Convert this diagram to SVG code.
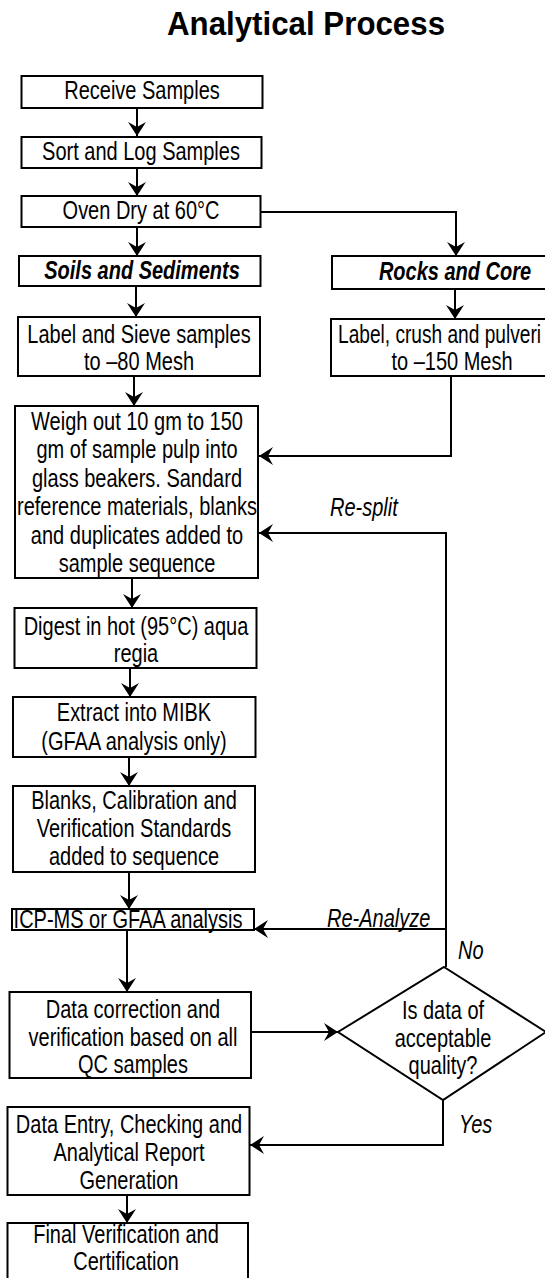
<svg xmlns="http://www.w3.org/2000/svg" width="545" height="1278" viewBox="0 0 545 1278">
<style>
.bx{fill:#fff;stroke:#000;stroke-width:2}
.ln{fill:none;stroke:#000;stroke-width:2}
text{font-family:"Liberation Sans",Arial,sans-serif;font-size:25px;fill:#000}
.c{text-anchor:middle}
.s{text-anchor:start}
.bi{font-weight:bold;font-style:italic}
.i{font-style:italic}
.ttl{font-weight:bold;font-size:34px;text-anchor:middle}
</style>
<defs>
<marker id="ah" markerUnits="userSpaceOnUse" viewBox="0 0 14 20" markerWidth="14" markerHeight="20" refX="14" refY="10" orient="auto">
<path d="M0,1 L14,10 L0,19 L5,10 Z" fill="#000"/>
</marker>
</defs>
<rect width="545" height="1278" fill="#fff"/>
<text class="ttl" transform="translate(306,35) scale(0.92,1)">Analytical Process</text>

<g id="connectors">
<line class="ln" x1="137" y1="108" x2="137" y2="136" marker-end="url(#ah)"/>
<line class="ln" x1="137" y1="168" x2="137" y2="196" marker-end="url(#ah)"/>
<line class="ln" x1="137" y1="227" x2="137" y2="256" marker-end="url(#ah)"/>
<polyline class="ln" points="261,212 456,212 456,256" marker-end="url(#ah)"/>
<line class="ln" x1="136" y1="286" x2="136" y2="317" marker-end="url(#ah)"/>
<line class="ln" x1="455" y1="289" x2="455" y2="319" marker-end="url(#ah)"/>
<line class="ln" x1="134" y1="376" x2="134" y2="406" marker-end="url(#ah)"/>
<polyline class="ln" points="451,376 451,456 259,456" marker-end="url(#ah)"/>
<polyline class="ln" points="446,967 446,533 259,533" marker-end="url(#ah)"/>
<line class="ln" x1="446" y1="929" x2="254" y2="929" marker-end="url(#ah)"/>
<line class="ln" x1="132" y1="578" x2="132" y2="608" marker-end="url(#ah)"/>
<line class="ln" x1="130" y1="668" x2="130" y2="697" marker-end="url(#ah)"/>
<line class="ln" x1="129" y1="757" x2="129" y2="786" marker-end="url(#ah)"/>
<line class="ln" x1="129" y1="872" x2="129" y2="909" marker-end="url(#ah)"/>
<line class="ln" x1="127" y1="930" x2="127" y2="992" marker-end="url(#ah)"/>
<line class="ln" x1="251" y1="1032" x2="338" y2="1032" marker-end="url(#ah)"/>
<polyline class="ln" points="443,1100 443,1145 250,1145" marker-end="url(#ah)"/>
<line class="ln" x1="127" y1="1195" x2="127" y2="1223" marker-end="url(#ah)"/>
<text class="s i" transform="translate(330,516) scale(0.8,1)">Re-split</text>
<text class="s i" transform="translate(327,927) scale(0.8,1)">Re-Analyze</text>
<text class="s i" transform="translate(458,959) scale(0.8,1)">No</text>
<text class="s i" transform="translate(459,1133) scale(0.8,1)">Yes</text>
</g>

<g id="receive">
<rect class="bx" x="21.5" y="76" width="241" height="32"/>
<text class="c" transform="translate(142,99) scale(0.8,1)">Receive Samples</text>
</g>
<g id="sort">
<rect class="bx" x="21.5" y="137" width="240" height="31"/>
<text class="c" transform="translate(141,160) scale(0.8,1)">Sort and Log Samples</text>
</g>
<g id="oven">
<rect class="bx" x="21.5" y="196" width="239" height="31"/>
<text class="c" transform="translate(141,219) scale(0.8,1)">Oven Dry at 60°C</text>
</g>
<g id="soils">
<rect class="bx" x="19" y="256" width="241.5" height="30"/>
<text class="c bi" transform="translate(142,279) scale(0.8,1)">Soils and Sediments</text>
</g>
<g id="rocks">
<rect class="bx" x="332" y="256" width="246" height="33"/>
<text class="c bi" transform="translate(455,280) scale(0.8,1)">Rocks and Core</text>
</g>
<g id="label-sieve">
<rect class="bx" x="18" y="317" width="242" height="59"/>
<text class="c" transform="translate(139,343) scale(0.8,1)">Label and Sieve samples</text>
<text class="c" transform="translate(139,370) scale(0.8,1)">to –80 Mesh</text>
</g>
<g id="label-crush">
<rect class="bx" x="331" y="319" width="246" height="57"/>
<text class="s" transform="translate(338,343) scale(0.765,1)">Label, crush and pulveri</text>
<text class="c" transform="translate(452,370) scale(0.8,1)">to –150 Mesh</text>
</g>
<g id="weigh">
<rect class="bx" x="15" y="406" width="243" height="172"/>
<text class="c" transform="translate(137,430) scale(0.8,1)">Weigh out 10 gm to 150</text>
<text class="c" transform="translate(137,458.4) scale(0.8,1)">gm of sample pulp into</text>
<text class="c" transform="translate(137,486.8) scale(0.8,1)">glass beakers. Sandard</text>
<text class="c" transform="translate(137,515.2) scale(0.8,1)">reference materials, blanks</text>
<text class="c" transform="translate(137,543.6) scale(0.8,1)">and duplicates added to</text>
<text class="c" transform="translate(137,572) scale(0.8,1)">sample sequence</text>
</g>
<g id="digest">
<rect class="bx" x="14.5" y="608" width="242" height="60"/>
<text class="c" transform="translate(136,635) scale(0.8,1)">Digest in hot (95°C) aqua</text>
<text class="c" transform="translate(136,662) scale(0.8,1)">regia</text>
</g>
<g id="extract">
<rect class="bx" x="13" y="697" width="242.5" height="60"/>
<text class="c" transform="translate(134,721) scale(0.8,1)">Extract into MIBK</text>
<text class="c" transform="translate(134,750) scale(0.8,1)">(GFAA analysis only)</text>
</g>
<g id="blanks">
<rect class="bx" x="13" y="786" width="242" height="86"/>
<text class="c" transform="translate(134,809) scale(0.8,1)">Blanks, Calibration and</text>
<text class="c" transform="translate(134,837) scale(0.8,1)">Verification Standards</text>
<text class="c" transform="translate(134,865) scale(0.8,1)">added to sequence</text>
</g>
<g id="icp">
<rect class="bx" x="12" y="909" width="242" height="21"/>
<text class="c" transform="translate(128,928) scale(0.8,1)">ICP-MS or GFAA analysis</text>
</g>
<g id="data-correction">
<rect class="bx" x="9.5" y="992" width="241.5" height="86"/>
<text class="c" transform="translate(133,1018) scale(0.8,1)">Data correction and</text>
<text class="c" transform="translate(133,1046) scale(0.8,1)">verification based on all</text>
<text class="c" transform="translate(133,1073) scale(0.8,1)">QC samples</text>
</g>
<g id="decision">
<polygon class="bx" points="444,967 546,1032 443,1100 338,1032"/>
<text class="c" transform="translate(443,1019) scale(0.8,1)">Is data of</text>
<text class="c" transform="translate(443,1047) scale(0.8,1)">acceptable</text>
<text class="c" transform="translate(443,1074) scale(0.8,1)">quality?</text>
</g>
<g id="data-entry">
<rect class="bx" x="7.5" y="1107" width="242" height="88"/>
<text class="c" transform="translate(129,1133) scale(0.8,1)">Data Entry, Checking and</text>
<text class="c" transform="translate(129,1161) scale(0.8,1)">Analytical Report</text>
<text class="c" transform="translate(129,1189) scale(0.8,1)">Generation</text>
</g>
<g id="final">
<rect class="bx" x="7.5" y="1223" width="240.5" height="70"/>
<text class="c" transform="translate(126,1243) scale(0.8,1)">Final Verification and</text>
<text class="c" transform="translate(126,1270) scale(0.8,1)">Certification</text>
</g>
</svg>
